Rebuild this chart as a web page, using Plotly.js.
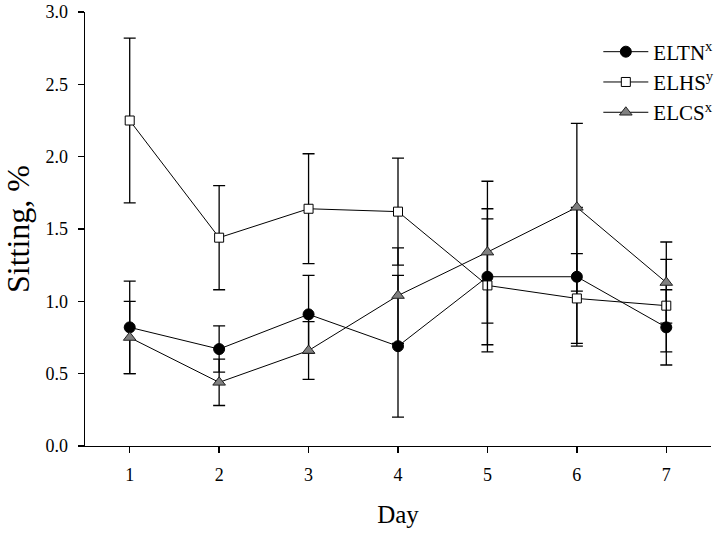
<!DOCTYPE html>
<html>
<head>
<meta charset="utf-8">
<script src="https://cdn.plot.ly/plotly-3.0.1.min.js"></script>
<style>html,body{margin:0;padding:0;background:#fff;}#chart{width:716px;height:535px;}</style>
</head>
<body>
<div id="chart"></div>
<script>
const days = [1, 2, 3, 4, 5, 6, 7];
const eltn = [0.82, 0.67, 0.91, 0.69, 1.17, 1.17, 0.82];
const eltnErr = [0.32, 0.16, 0.27, 0.49, 0.47, 0.48, 0.26];
const elhs = [2.25, 1.44, 1.64, 1.62, 1.11, 1.02, 0.97];
const elhsErr = [0.57, 0.36, 0.38, 0.37, 0.46, 0.31, 0.32];
const elcs = [0.75, 0.44, 0.66, 1.04, 1.34, 1.65, 1.13];
const elcsErr = [0.25, 0.16, 0.20, 0.33, 0.49, 0.58, 0.28];
const names = ["ELTN<sup>x</sup>", "ELHS<sup>y</sup>", "ELCS<sup>x</sup>"];
const yTicks = [0, 0.5, 1.0, 1.5, 2.0, 2.5, 3.0];
const yTickText = ["0.0", "0.5", "1.0", "1.5", "2.0", "2.5", "3.0"];

function errBar(arr) {
  return {type: 'data', array: arr, visible: true, color: '#000', thickness: 1.3, width: 6};
}

const traces = [
  {x: days, y: eltn, name: names[0], mode: 'lines+markers', type: 'scatter',
   line: {color: '#000', width: 1},
   marker: {symbol: 'circle', size: 11, color: '#000', line: {color: '#000', width: 1}},
   error_y: errBar(eltnErr)},
  {x: days, y: elhs, name: names[1], mode: 'lines+markers', type: 'scatter',
   line: {color: '#000', width: 1},
   marker: {symbol: 'square', size: 9, color: '#fff', line: {color: '#000', width: 1}},
   error_y: errBar(elhsErr)},
  {x: days, y: elcs, name: names[2], mode: 'lines+markers', type: 'scatter',
   line: {color: '#000', width: 1},
   marker: {symbol: 'triangle-up', size: 11, color: '#808080', line: {color: '#222', width: 1}},
   error_y: errBar(elcsErr)}
];

const layout = {
  width: 716, height: 535,
  margin: {l: 85, r: 5, t: 12, b: 89, autoexpand: false},
  paper_bgcolor: '#fff', plot_bgcolor: '#fff',
  font: {family: '"Liberation Serif", "Times New Roman", serif', color: '#000', size: 18},
  showlegend: true,
  legend: {x: 0.82, y: 0.955, xanchor: 'left', yanchor: 'top', bgcolor: 'rgba(0,0,0,0)',
           font: {size: 21}, itemwidth: 45},
  xaxis: {
    range: [0.5, 7.5], tickvals: days, ticktext: days.map(String),
    showgrid: false, zeroline: false, showline: true, linecolor: '#000', linewidth: 1.3,
    ticks: 'outside', ticklen: 6, tickcolor: '#000', tickwidth: 1.3,
    ticklabelstandoff: 6,
    tickfont: {size: 18},
    title: {text: 'Day', font: {size: 25}, standoff: 21}
  },
  yaxis: {
    range: [0, 3.0], tickvals: yTicks, ticktext: yTickText,
    showgrid: false, zeroline: false, showline: true, linecolor: '#000', linewidth: 1.3,
    ticks: 'outside', ticklen: 6, tickcolor: '#000', tickwidth: 1.3,
    ticklabelstandoff: 6,
    tickfont: {size: 18},
    title: {text: 'Sitting, %', font: {size: 32}, standoff: 8}
  }
};

Plotly.newPlot('chart', traces, layout, {displayModeBar: false, staticPlot: true});
</script>
</body>
</html>
